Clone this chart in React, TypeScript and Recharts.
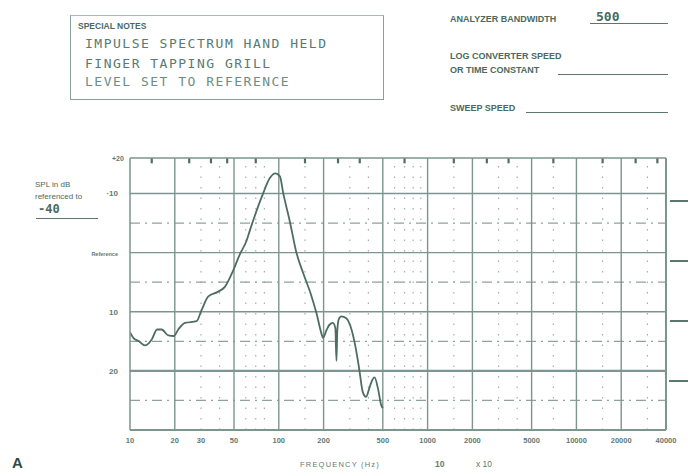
import React from 'react'
import { LineChart, Line, XAxis, YAxis, ReferenceLine } from 'recharts'

// readings (Hz, dB re reference)
const freqHz = [10, 10.6, 11.5, 12.6, 14.0, 15.2, 16.3, 18.1, 19.7, 21.1, 23.4, 28.0, 30.3, 33.6, 39.2, 43.4, 49.4, 54.7, 60.7, 64, 67, 78.7, 87, 95, 101.7, 107, 119, 131, 146, 165, 179, 194, 198, 210, 219, 231, 240, 244, 247, 252, 263, 284, 308, 333, 348, 367, 386, 405, 419, 440, 464, 488, 500]
const splDb = [-13.5, -14.5, -15.0, -15.7, -14.7, -13.0, -13.0, -14.0, -14.1, -13.0, -11.9, -11.6, -9.7, -7.4, -6.6, -5.8, -3.0, -0.3, 2.0, 3.8, 5.3, 10.1, 12.6, 13.4, 12.9, 10.1, 5.1, 0.1, -3.5, -7.2, -10.2, -13.8, -14.4, -13.0, -12.2, -11.9, -12.8, -18.3, -13.5, -11.4, -10.8, -11.1, -13.0, -16.9, -19.9, -23.6, -24.4, -23.0, -21.9, -21.1, -23.0, -25.8, -26.3]

const xTicks = [10, 20, 30, 50, 100, 200, 500, 1000, 2000, 5000, 10000, 20000, 40000]
const majorX = [20, 50, 100, 200, 500, 1000, 2000, 5000, 10000, 20000]
const dottedX = [30, 40, 60, 70, 80, 150, 300, 400, 600, 700, 800, 900, 1500, 3000, 4000, 7000, 15000, 30000]
const topMarks = [14, 25, 35, 45, 70, 150, 250, 350, 700, 1500, 2500, 3500, 7000, 15000, 25000, 35000]
const yTicks = [-20, -10, 0, 10]
const yLabels: Record<number, string> = { '-20': '20', '-10': '10', '0': 'Reference', '10': '·10' }
const solidY = [-20, -10, 0, 10]
const dashedY = [-25, -15, -5, 5]

const data = freqHz.map((f, i) => ({ f, db: splDb[i] }))

const ink = '#4d6d63'
const grid = '#7c958e'
const label = '#5f7a72'

const YTick = (props: any) => {
  const { x, y, payload } = props
  const txt = yLabels[payload.value]
  const small = payload.value === 0
  return (
    <text x={x - 4} y={y + 3} textAnchor="end" fill={label} fontFamily="Liberation Sans" fontWeight="bold"
      fontSize={small ? 5.5 : 8}>{txt}</text>
  )
}

const abs = (left: number, top: number, extra: React.CSSProperties = {}): React.CSSProperties => ({
  position: 'absolute', left, top, whiteSpace: 'nowrap', lineHeight: 1, ...extra,
})

const small: React.CSSProperties = { fontFamily: 'Liberation Sans', fontWeight: 'bold', fontSize: 9, color: '#4b6a60' }
const typed: React.CSSProperties = { fontFamily: 'DejaVu Sans Mono', fontSize: 13, letterSpacing: 1.5, color: '#587a70' }
const rule = (left: number, top: number, width: number, h = 1.3): React.CSSProperties =>
  abs(left, top, { width, height: h, background: '#5a766e' })

export default function App() {
  return (
    <div style={{ position: 'absolute', left: 0, top: 0, width: 688, height: 472, background: '#fff', overflow: 'hidden' }}>
      {/* notes box */}
      <div style={abs(70, 15, { width: 312, height: 83, border: '1.3px solid #8aa09a', borderTopColor: '#a9b9b4' })} />
      <div style={abs(78, 22, { ...small, fontSize: 8.5 })}>SPECIAL NOTES</div>
      <div style={abs(85, 37, typed)}>IMPULSE SPECTRUM HAND HELD</div>
      <div style={abs(85, 57, typed)}>FINGER TAPPING GRILL</div>
      <div style={abs(85, 75, { ...typed, color: '#6d8d84' })}>LEVEL SET TO REFERENCE</div>

      <div style={abs(450, 15, small)}>ANALYZER BANDWIDTH</div>
      <div style={rule(590, 23, 78)} />
      <div style={abs(596, 10, { fontFamily: 'DejaVu Sans Mono', fontWeight: 'bold', fontSize: 13, color: '#4b6a60' })}>500</div>
      <div style={abs(450, 52, small)}>LOG CONVERTER SPEED</div>
      <div style={abs(450, 66, small)}>OR TIME CONSTANT</div>
      <div style={rule(558, 74, 110)} />
      <div style={abs(450, 104, small)}>SWEEP SPEED</div>
      <div style={rule(526, 112, 142)} />

      <div style={abs(35, 181, { ...small, fontSize: 8, fontWeight: 'normal', color: '#4b6a60' })}>SPL in dB</div>
      <div style={abs(35, 193, { ...small, fontSize: 8, fontWeight: 'normal', color: '#4b6a60' })}>referenced to</div>
      <div style={abs(38, 203, { fontFamily: 'DejaVu Sans Mono', fontWeight: 'bold', fontSize: 12, color: '#4b6a60' })}>-40</div>
      <div style={rule(36, 218, 62)} />
      <div style={abs(112, 155, { ...small, fontSize: 7, color: label })}>+20</div>

      <div style={rule(670, 200, 18, 2)} />
      <div style={rule(670, 260, 18, 2)} />
      <div style={rule(670, 320, 18, 2)} />
      <div style={rule(669, 380, 19, 2)} />

      <div style={abs(300, 461, { ...small, fontSize: 7.5, fontWeight: 'normal', letterSpacing: 1.2, color: label })}>FREQUENCY (Hz)</div>
      <div style={abs(435, 460, { ...small, fontSize: 8.5, color: label })}>10</div>
      <div style={abs(476, 460, { ...small, fontSize: 8.5, fontWeight: 'normal', color: label })}>x 10</div>
      <div style={abs(12, 455, { fontFamily: 'Liberation Sans', fontWeight: 'bold', fontSize: 15, color: '#2e4b40' })}>A</div>

      <div style={{ position: 'absolute', left: 0, top: 0 }}>
        <LineChart width={688} height={472} data={data} margin={{ top: 158, right: 22, bottom: 12, left: 90 }}>
          <XAxis dataKey="f" type="number" scale="log" domain={[10, 40000]} ticks={xTicks} allowDataOverflow
            height={30} axisLine={{ stroke: grid, strokeWidth: 2 }} tickLine={false}
            tick={{ fill: label, fontSize: 7.5, fontFamily: 'Liberation Sans', fontWeight: 'bold' }} />
          <YAxis type="number" domain={[-30, 16]} ticks={yTicks} allowDataOverflow width={40}
            axisLine={{ stroke: grid, strokeWidth: 1.5 }} tickLine={false} tick={<YTick />} />
          {dottedX.map(v => (
            <ReferenceLine key={'d' + v} x={v} stroke="#9fb1ac" strokeWidth={1.2} strokeDasharray="1.5 9" />
          ))}
          {dashedY.map(v => (
            <ReferenceLine key={'h' + v} y={v} stroke="#8ea39d" strokeWidth={1.2} strokeDasharray="10 5 2 5" />
          ))}
          {majorX.map(v => (
            <ReferenceLine key={'m' + v} x={v} stroke={grid} strokeWidth={1.4} />
          ))}
          {solidY.map(v => (
            <ReferenceLine key={'s' + v} y={v} stroke={grid} strokeWidth={v === -20 ? 2.2 : 1.4} />
          ))}
          {topMarks.map(v => (
            <ReferenceLine key={'t' + v} segment={[{ x: v, y: 16 }, { x: v, y: 15.1 }]} stroke="#4f6d64" strokeWidth={2.2} />
          ))}
          <ReferenceLine x={40000} stroke={grid} strokeWidth={2} />
          <ReferenceLine y={16} stroke={grid} strokeWidth={1.5} />
          <Line dataKey="db" type="monotone" stroke={ink} strokeWidth={1.8} dot={false} isAnimationActive={false} />
        </LineChart>
      </div>
    </div>
  )
}
